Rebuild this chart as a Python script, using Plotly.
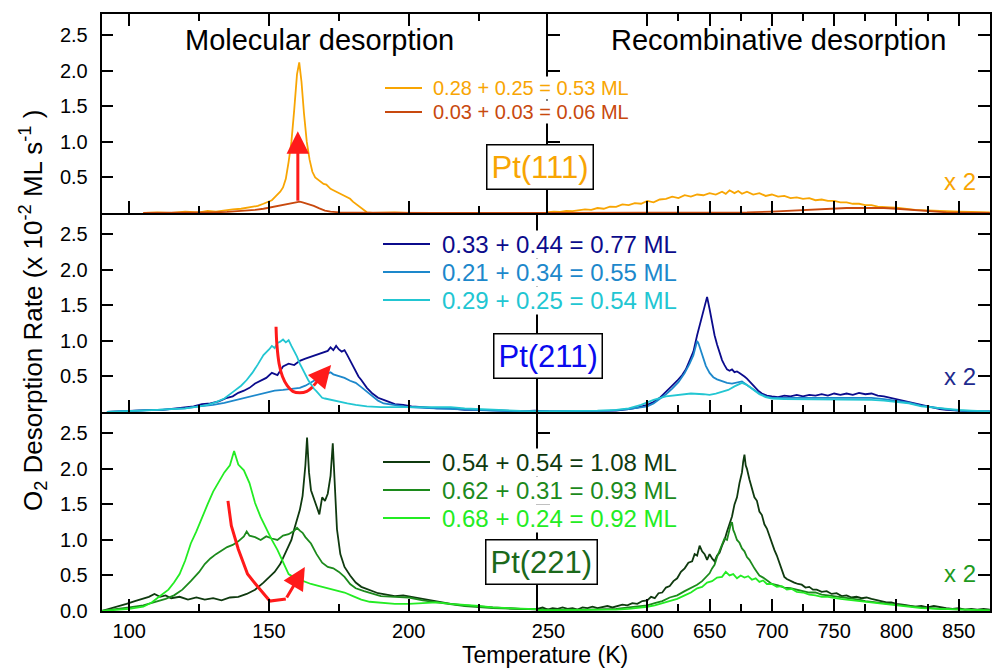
import plotly.graph_objects as go

FONT = "Liberation Sans, Arial, Helvetica, sans-serif"

# ---------------- data ----------------
# temperature in K, rate in 1e-2 ML/s ; "mol" = molecular (90-250 K), "rec" = recombinative (512-875 K, shown x2)

headers = ["Molecular desorption", "Recombinative desorption"]
surfaces = ["Pt(111)", "Pt(211)", "Pt(221)"]

labels_111 = ["0.28 + 0.25 = 0.53 ML", "0.03 + 0.03 = 0.06 ML"]
labels_211 = ["0.33 + 0.44 = 0.77 ML", "0.21 + 0.34 = 0.55 ML", "0.29 + 0.25 = 0.54 ML"]
labels_221 = ["0.54 + 0.54 = 1.08 ML", "0.62 + 0.31 = 0.93 ML", "0.68 + 0.24 = 0.92 ML"]

left_ticks = [100, 150, 200, 250]
left_minor = [125, 175, 225]
right_ticks = [600, 650, 700, 750, 800, 850]
right_minor = [625, 675, 725, 775, 825, 875]
y_ticks_top = [0.5, 1.0, 1.5, 2.0, 2.5]
y_ticks_bottom = [0.0, 0.5, 1.0, 1.5, 2.0, 2.5]

# Pt(111)
pt111_053_mol = [(105,0.0),(110,0.01),(115,0.0),(120,0.02),(125,0.01),(128,0.03),(131,0.02),(134,0.04),(137,0.05),
    (140,0.06),(142,0.07),(144,0.09),(146,0.1),(148,0.13),(150,0.16),(151,0.18),(152,0.22),(153,0.26),(154,0.3),
    (155,0.36),(156,0.48),(157,0.72),(158,1.0),(159,1.45),(160,1.95),(160.8,2.12),(161.6,1.85),(162.5,1.4),(163.5,1.0),
    (164.5,0.75),(165.5,0.58),(166.5,0.5),(167.5,0.47),(168.5,0.45),(169.5,0.41),(170.5,0.4),(172,0.34),(173,0.32),
    (174,0.3),(175,0.29),(176,0.26),(177,0.25),(178,0.22),(179,0.2),(180,0.16),(181,0.13),(182,0.1),(183,0.06),
    (184,0.03),(185,0.01),(187,0.0),(195,0.01),(200,0.0),(210,0.0),(220,0.005),(230,0.0),(240,0.0),(250,0.0)]
pt111_006_mol = [(105,0.0),(110,0.0),(120,0.0),(130,0.01),(135,0.015),(140,0.025),(145,0.045),(148,0.06),(150,0.075),
    (152,0.09),(154,0.11),(156,0.13),(158,0.145),(160,0.155),(161,0.16),(162,0.15),(164,0.13),(166,0.1),(168,0.065),
    (170,0.035),(172,0.02),(175,0.01),(180,0.005),(190,0.0),(200,0.0),(210,0.0),(220,0.0),(230,0.0),(240,0.0),(250,0.0)]
pt111_053_rec = [(520,0.01),(525,0.02),(530,0.015),(535,0.03),(540,0.025),(545,0.04),(550,0.05),(555,0.045),
    (560,0.07),(565,0.06),(570,0.09),(575,0.085),(580,0.12),(585,0.11),(590,0.14),(595,0.13),(600,0.17),(605,0.15),
    (610,0.19),(615,0.2),(620,0.23),(625,0.21),(630,0.25),(635,0.23),(640,0.26),(645,0.25),(650,0.28),(655,0.26),
    (660,0.3),(663,0.27),(666,0.32),(670,0.28),(673,0.31),(676,0.27),(680,0.3),(685,0.26),(690,0.28),(695,0.24),
    (700,0.26),(705,0.23),(710,0.24),(715,0.21),(720,0.22),(725,0.2),(730,0.21),(735,0.18),(740,0.19),(745,0.17),
    (750,0.17),(755,0.15),(760,0.15),(765,0.13),(770,0.13),(775,0.11),(780,0.11),(785,0.09),(790,0.09),(795,0.08),
    (800,0.075),(805,0.06),(810,0.055),(815,0.045),(820,0.04),(825,0.035),(830,0.03),(840,0.025),(850,0.02),
    (860,0.015),(875,0.01)]
pt111_006_rec = [(520,0.0),(600,0.0),(650,0.005),(680,0.01),(700,0.02),(710,0.03),(720,0.04),(730,0.05),(740,0.06),
    (750,0.065),(760,0.07),(770,0.07),(780,0.075),(790,0.07),(800,0.06),(810,0.045),(820,0.03),(830,0.02),(840,0.01),
    (850,0.005),(875,0.0)]

# Pt(211)
pt211_077_mol = [(92,0.0),(96,0.01),(100,0.01),(104,0.02),(108,0.03),(112,0.03),(116,0.05),(120,0.07),(123,0.08),
    (126,0.11),(129,0.12),(132,0.15),(135,0.2),(137,0.22),(139,0.27),(141,0.3),(143,0.34),(145,0.4),(147,0.44),
    (149,0.48),(151,0.55),(153,0.52),(155,0.64),(157,0.68),(159,0.66),(161,0.72),(163,0.75),(165,0.78),(167,0.8),
    (169,0.84),(171,0.86),(172,0.91),(173,0.87),(174,0.93),(175,0.88),(176,0.85),(177,0.87),(178,0.8),(179,0.72),
    (180,0.64),(181,0.58),(182,0.5),(183,0.45),(184,0.39),(185,0.34),(187,0.26),(189,0.2),(191,0.17),(193,0.14),
    (195,0.11),(198,0.1),(201,0.08),(205,0.07),(210,0.05),(215,0.05),(220,0.03),(225,0.03),(230,0.02),(235,0.02),
    (240,0.01),(245,0.02),(250,0.01)]
pt211_055_mol = [(92,0.0),(100,0.01),(105,0.02),(110,0.03),(115,0.04),(120,0.05),(125,0.08),(130,0.1),(134,0.13),
    (137,0.16),(140,0.18),(143,0.21),(146,0.25),(149,0.28),(152,0.3),(155,0.31),(158,0.33),(161,0.34),(163,0.37),
    (165,0.42),(167,0.46),(169,0.5),(171,0.54),(172,0.56),(173,0.53),(175,0.51),(177,0.48),(179,0.44),(181,0.41),
    (183,0.35),(185,0.29),(187,0.22),(189,0.16),(191,0.12),(194,0.1),(197,0.08),(200,0.07),(205,0.06),(210,0.05),
    (215,0.04),(220,0.03),(230,0.02),(240,0.01),(250,0.01)]
pt211_054_mol = [(92,0.0),(100,0.01),(105,0.02),(110,0.03),(115,0.04),(120,0.05),(125,0.08),(128,0.1),(131,0.14),
    (134,0.19),(137,0.28),(140,0.37),(142,0.45),(144,0.55),(146,0.67),(148,0.8),(150,0.88),(151,0.93),(152,0.9),
    (153,0.97),(154,0.99),(155,1.02),(156,0.98),(157,1.01),(158,0.93),(159,0.86),(160,0.78),(161,0.68),(162,0.6),
    (163,0.52),(164,0.45),(165,0.39),(166,0.33),(167,0.29),(168,0.25),(169,0.2),(170,0.19),(172,0.17),(175,0.15),
    (178,0.12),(181,0.1),(185,0.08),(190,0.07),(195,0.07),(200,0.08),(205,0.07),(210,0.08),(215,0.07),(220,0.05),
    (225,0.04),(230,0.03),(240,0.015),(250,0.01)]
pt211_077_rec = [(512,0.01),(530,0.01),(550,0.01),(565,0.02),(575,0.02),(585,0.04),(592,0.06),(600,0.1),(605,0.14),
    (610,0.2),(615,0.28),(620,0.37),(624,0.44),(628,0.52),(631,0.6),(634,0.72),(637,0.85),(640,1.08),(642,1.22),
    (644,1.38),(646,1.5),(648,1.62),(650,1.45),(652,1.25),(654,1.08),(656,0.95),(658,0.82),(660,0.73),(662,0.66),
    (664,0.6),(666,0.58),(668,0.6),(670,0.56),(672,0.57),(674,0.55),(676,0.53),(678,0.5),(680,0.47),(683,0.41),
    (686,0.36),(689,0.3),(692,0.26),(696,0.23),(700,0.22),(705,0.21),(710,0.23),(715,0.22),(720,0.24),(725,0.22),
    (730,0.24),(735,0.23),(740,0.25),(745,0.23),(750,0.26),(755,0.24),(760,0.26),(765,0.24),(770,0.27),(775,0.25),
    (780,0.26),(785,0.23),(790,0.22),(795,0.2),(800,0.19),(805,0.17),(810,0.15),(815,0.12),(820,0.1),(825,0.08),
    (830,0.06),(835,0.04),(840,0.03),(850,0.02),(860,0.01),(875,0.01)]
pt211_055_rec = [(512,0.01),(550,0.01),(570,0.02),(585,0.04),(595,0.06),(600,0.08),(605,0.12),(610,0.18),(615,0.25),
    (620,0.33),(625,0.42),(630,0.55),(634,0.68),(637,0.8),(639,0.92),(640,1.0),(641,0.97),(643,0.87),(645,0.76),
    (647,0.65),(650,0.55),(653,0.49),(656,0.46),(660,0.43),(664,0.41),(668,0.4),(672,0.42),(676,0.43),(680,0.38),
    (685,0.32),(690,0.26),(695,0.22),(700,0.2),(710,0.2),(720,0.2),(735,0.2),(750,0.21),(765,0.21),(780,0.2),
    (790,0.18),(800,0.16),(810,0.13),(820,0.09),(830,0.06),(840,0.04),(850,0.02),(860,0.01),(875,0.01)]
pt211_054_rec = [(512,0.01),(540,0.01),(560,0.02),(575,0.03),(585,0.05),(595,0.1),(605,0.17),(615,0.22),(625,0.24),
    (635,0.26),(645,0.25),(650,0.24),(655,0.26),(660,0.28),(665,0.31),(670,0.36),(673,0.39),(676,0.41),(680,0.38),
    (685,0.31),(690,0.25),(695,0.21),(700,0.19),(710,0.18),(720,0.18),(735,0.18),(750,0.18),(765,0.18),(780,0.17),
    (790,0.16),(800,0.14),(810,0.12),(820,0.08),(830,0.06),(840,0.04),(850,0.03),(860,0.02),(875,0.01)]

# Pt(221)
pt221_108_mol = [(90,0.0),(93,0.03),(96,0.07),(99,0.1),(102,0.14),(105,0.17),(107,0.2),(109,0.24),(111,0.2),
    (113,0.22),(115,0.18),(118,0.2),(121,0.16),(124,0.19),(127,0.16),(130,0.18),(133,0.15),(136,0.19),(139,0.2),
    (142,0.24),(145,0.3),(148,0.4),(150,0.47),(152,0.55),(154,0.66),(156,0.82),(158,1.0),(159,1.15),(160,1.28),
    (161,1.42),(162,1.62),(163,2.05),(163.6,2.44),(164.3,1.95),(165,1.7),(166,1.58),(167,1.47),(168,1.36),(169,1.6),
    (170,1.55),(171,1.65),(172,1.9),(172.8,2.36),(173.5,1.8),(174.3,1.15),(175.5,0.8),(177,0.62),(179,0.5),
    (181,0.4),(183,0.34),(186,0.29),(189,0.25),(192,0.23),(195,0.21),(198,0.22),(201,0.2),(204,0.18),(207,0.16),
    (210,0.14),(215,0.1),(220,0.08),(225,0.06),(230,0.05),(240,0.03),(250,0.02)]
pt221_093_mol = [(90,0.0),(95,0.02),(100,0.05),(105,0.08),(110,0.14),(113,0.17),(116,0.22),(119,0.3),(122,0.42),
    (125,0.55),(127,0.66),(129,0.74),(131,0.8),(133,0.85),(135,0.9),(137,0.93),(139,0.98),(141,1.05),(142,1.12),
    (143,1.06),(145,1.04),(147,1.0),(149,1.05),(151,1.02),(153,1.0),(155,1.06),(157,1.08),(159,1.13),(160,1.17),
    (161,1.13),(162,1.1),(163,1.04),(165,0.95),(167,0.8),(169,0.68),(171,0.62),(173,0.6),(175,0.55),(177,0.48),
    (179,0.38),(181,0.32),(184,0.28),(187,0.24),(190,0.21),(195,0.2),(200,0.19),(205,0.15),(210,0.12),(215,0.1),
    (220,0.07),(230,0.04),(240,0.03),(250,0.02)]
pt221_092_mol = [(90,0.0),(95,0.01),(100,0.03),(105,0.06),(108,0.12),(111,0.21),(114,0.3),(116,0.4),(118,0.52),
    (120,0.71),(122,0.95),(124,1.12),(126,1.32),(128,1.5),(130,1.68),(132,1.82),(134,1.95),(136,2.05),(137.5,2.25),
    (139,2.06),(141,1.98),(143,1.8),(145,1.52),(147,1.32),(149,1.15),(151,1.0),(153,0.86),(155,0.68),(157,0.52),
    (159,0.47),(161,0.44),(163,0.4),(165,0.38),(168,0.35),(171,0.32),(174,0.3),(177,0.26),(180,0.21),(183,0.16),
    (186,0.13),(190,0.12),(195,0.1),(200,0.1),(205,0.11),(210,0.12),(215,0.1),(220,0.09),(225,0.07),(230,0.05),
    (240,0.03),(250,0.02)]
pt221_108_rec = [(512,0.03),(516,0.05),(520,0.02),(524,0.04),(528,0.03),(532,0.05),(536,0.03),(540,0.04),(544,0.02),
    (548,0.05),(552,0.04),(556,0.06),(560,0.04),(564,0.05),(568,0.07),(572,0.05),(576,0.07),(580,0.09),(584,0.08),
    (588,0.11),(592,0.1),(596,0.14),(600,0.15),(603,0.2),(606,0.18),(609,0.25),(612,0.26),(615,0.33),(618,0.35),
    (621,0.42),(624,0.46),(627,0.55),(630,0.6),(633,0.68),(636,0.7),(638,0.8),(640,0.78),(642,0.92),(644,0.84),
    (646,0.8),(648,0.72),(650,0.8),(652,0.74),(654,0.7),(656,0.78),(658,0.82),(660,0.92),(662,1.0),(664,1.12),
    (666,1.22),(668,1.33),(670,1.5),(672,1.6),(674,1.8),(676,1.95),(677,2.1),(678,2.2),(679,2.05),(680,2.0),
    (682,1.85),(684,1.72),(686,1.6),(688,1.55),(690,1.4),(692,1.35),(694,1.22),(696,1.16),(698,1.05),(700,0.95),
    (702,0.86),(704,0.78),(706,0.68),(708,0.6),(710,0.48),(712,0.45),(715,0.42),(718,0.4),(721,0.38),(724,0.37),
    (727,0.33),(730,0.34),(733,0.3),(736,0.3),(740,0.27),(744,0.28),(748,0.24),(752,0.25),(756,0.21),(760,0.22),
    (764,0.19),(768,0.2),(772,0.18),(776,0.19),(780,0.17),(784,0.15),(788,0.14),(792,0.12),(796,0.12),(800,0.1),
    (805,0.09),(810,0.08),(815,0.06),(820,0.07),(825,0.05),(830,0.07),(835,0.05),(840,0.04),(845,0.03),(850,0.04),
    (855,0.02),(860,0.03),(865,0.02),(870,0.03),(875,0.02)]
pt221_093_rec = [(512,0.01),(530,0.02),(550,0.02),(565,0.03),(575,0.03),(585,0.05),(592,0.06),(600,0.08),(606,0.11),
    (612,0.14),(618,0.19),(624,0.22),(630,0.28),(635,0.32),(640,0.37),(644,0.42),(647,0.48),(650,0.53),(652,0.6),
    (654,0.65),(656,0.76),(658,0.85),(660,0.92),(662,1.02),(664,1.0),(666,1.15),(667,1.22),(668,1.25),(669,1.14),
    (670,1.1),(672,1.0),(674,0.96),(676,0.88),(678,0.84),(680,0.76),(682,0.72),(684,0.65),(686,0.6),(688,0.55),
    (690,0.5),(693,0.47),(696,0.43),(700,0.38),(705,0.36),(710,0.33),(715,0.32),(720,0.3),(725,0.29),(730,0.26),
    (735,0.26),(740,0.23),(745,0.22),(750,0.21),(755,0.19),(760,0.18),(765,0.17),(770,0.16),(775,0.14),(780,0.13),
    (785,0.11),(790,0.1),(795,0.09),(800,0.08),(810,0.06),(820,0.05),(835,0.03),(850,0.02),(875,0.01)]
pt221_092_rec = [(512,0.01),(540,0.01),(560,0.01),(575,0.02),(585,0.03),(592,0.04),(600,0.06),(606,0.08),(612,0.11),
    (618,0.14),(624,0.17),(630,0.22),(635,0.26),(640,0.32),(644,0.34),(648,0.4),(652,0.42),(656,0.47),(660,0.48),
    (663,0.55),(666,0.5),(669,0.52),(672,0.46),(675,0.5),(678,0.47),(681,0.49),(684,0.44),(687,0.46),(690,0.41),
    (693,0.43),(696,0.38),(700,0.38),(704,0.34),(708,0.35),(712,0.3),(716,0.31),(720,0.27),(725,0.26),(730,0.23),
    (735,0.22),(740,0.2),(745,0.2),(750,0.18),(755,0.17),(760,0.16),(765,0.15),(770,0.14),(775,0.13),(780,0.12),
    (785,0.1),(790,0.09),(795,0.08),(800,0.07),(810,0.05),(820,0.04),(835,0.03),(850,0.02),(875,0.01)]

# red guide arrows (T, rate): path points, last segment carries the head
arrow_111 = [(160.3, 0.15), (160.3, 1.15)]
arrow_211 = [(152.5, 1.2), (152.8, 0.95), (153.6, 0.68), (154.8, 0.5), (156.5, 0.37), (158.5, 0.29), (161, 0.27),
             (163.5, 0.29), (165.5, 0.35), (172.2, 0.66)]
arrow_221 = [(135.3, 1.55), (136.5, 1.2), (139, 0.87), (142.3, 0.52), (146.2, 0.33), (150.3, 0.14), (156, 0.17),
             (162.8, 0.62)]

# ---------------- styling ----------------
colors_111 = ["#F8A503", "#C8490E"]
colors_211 = ["#0B0B8C", "#1D88CB", "#22C6D2"]
colors_221 = ["#0F3A0F", "#1C8A1C", "#23EC23"]
box_colors = ["#F8A503", "#0A0AEE", "#1B691B"]
x2_colors = ["#F8A503", "#1E2A8E", "#1E9A1E"]
ARROW = "#FF1A1A"

panels = [
    dict(series=[(pt111_053_mol, pt111_053_rec), (pt111_006_mol, pt111_006_rec)], labels=labels_111,
         colors=colors_111, arrow=arrow_111, spline=False),
    dict(series=[(pt211_077_mol, pt211_077_rec), (pt211_055_mol, pt211_055_rec), (pt211_054_mol, pt211_054_rec)],
         labels=labels_211, colors=colors_211, arrow=arrow_211, spline=True),
    dict(series=[(pt221_108_mol, pt221_108_rec), (pt221_093_mol, pt221_093_rec), (pt221_092_mol, pt221_092_rec)],
         labels=labels_221, colors=colors_221, arrow=arrow_221, spline=False),
]

W, H = 992, 672
def px(x): return x / W
def py(y): return 1 - y / H

panel_top = [14, 213, 412]
panel_h = 199
x_left0, x_split, x_right1 = 101.5, 549.0, 990.0
right_start = [548.0, 538.0, 538.0]
# scales (px per K)
kL = 2.795; T100_px = 129.3
kR = 1.2456; T600_px = 647.3
left_range = [100 + (x_left0 - T100_px) / kL, 100 + (x_split - T100_px) / kL]

legend_font = [20, 24, 24]
legend_y = [[88, 112], [244, 272, 300], [462, 490, 518]]
legend_line = [(385, 422), (383, 430), (383, 430)]
legend_text_x = [432, 441, 441]
box_center = [(540, 167), (548, 356), (541, 562)]
x2_y = [182, 376, 573]

fig = go.Figure()
layout = dict(template="none", width=W, height=H, margin=dict(l=0, r=0, t=0, b=0, autoexpand=False),
              paper_bgcolor="white", plot_bgcolor="rgba(0,0,0,0)", showlegend=False,
              font=dict(family=FONT, color="black", size=20))
annotations, shapes = [], []

axis_common = dict(showline=True, linecolor="black", linewidth=1.5, ticks="inside", tickcolor="black",
                   tickwidth=1.5, showgrid=False, zeroline=False, automargin=False,
                   tickfont=dict(family=FONT, size=20, color="black"))

for r, p in enumerate(panels):
    y0, y1 = panel_top[r], panel_top[r] + panel_h
    ydom = [py(y1), py(y0)]
    iL, iR = 2 * r + 1, 2 * r + 2
    sL = "" if iL == 1 else str(iL)
    sR = str(iR)
    bottom = (r == 2)
    rs = right_start[r]
    right_range = [600 - (T600_px - rs) / kR, 600 + (x_right1 - T600_px) / kR]

    layout["xaxis" + sL] = dict(axis_common, domain=[px(x_left0), px(x_split)], range=left_range, anchor="y" + sL,
                                tickvals=left_ticks, ticklen=12, showticklabels=bottom, ticklabelstandoff=1,
                                minor=dict(tickvals=left_minor, ticklen=7, ticks="inside", tickcolor="black", tickwidth=1.5),
                                mirror="ticks" if r == 0 else False)
    layout["xaxis" + sR] = dict(axis_common, domain=[px(rs), px(x_right1)], range=right_range, anchor="y" + sR,
                                tickvals=right_ticks, ticklen=12, showticklabels=bottom, ticklabelstandoff=1,
                                minor=dict(tickvals=right_minor, ticklen=7, ticks="inside", tickcolor="black", tickwidth=1.5),
                                mirror="ticks" if r == 0 else False)
    yt = y_ticks_bottom if bottom else y_ticks_top
    layout["yaxis" + sL] = dict(axis_common, domain=ydom, range=[0, 2.8], anchor="x" + sL, tickvals=yt,
                                ticktext=["%.1f" % v for v in yt], ticklen=12, ticklabelstandoff=8)
    layout["yaxis" + sR] = dict(axis_common, domain=ydom, range=[0, 2.8], anchor="x" + sR, tickvals=y_ticks_top,
                                ticklen=12, showticklabels=False, mirror="ticks")

    for (mol, rec), c in zip(p["series"], p["colors"]):
        fig.add_trace(go.Scatter(x=[a for a, b in mol], y=[b for a, b in mol], mode="lines",
                                 line=dict(color=c, width=1.8), xaxis="x" + sL, yaxis="y" + sL))
        fig.add_trace(go.Scatter(x=[a for a, b in rec], y=[b for a, b in rec], mode="lines",
                                 line=dict(color=c, width=1.8), xaxis="x" + sR, yaxis="y" + sR))

    # red arrow: shaft as line, head as annotation on last segment
    ap = p["arrow"]
    fig.add_trace(go.Scatter(x=[a for a, b in ap[:-1]], y=[b for a, b in ap[:-1]], mode="lines",
                             line=dict(color=ARROW, width=3, shape="spline" if p["spline"] else "linear"),
                             xaxis="x" + sL, yaxis="y" + sL))
    annotations.append(dict(x=ap[-1][0], y=ap[-1][1], ax=ap[-2][0], ay=ap[-2][1], xref="x" + sL, yref="y" + sL,
                            axref="x" + sL, ayref="y" + sL, showarrow=True, arrowhead=2, arrowsize=1.5,
                            arrowwidth=3, arrowcolor=ARROW, text=""))

    # legend-like labels
    for k, (lab, c) in enumerate(zip(p["labels"], p["colors"])):
        yy = legend_y[r][k]
        annotations.append(dict(x=px(legend_text_x[r]), y=py(yy), xref="paper", yref="paper", xanchor="left",
                                yanchor="middle", text=lab, showarrow=False, bgcolor="white", borderpad=0,
                                font=dict(family=FONT, size=legend_font[r], color=c)))
        shapes.append(dict(type="line", xref="paper", yref="paper", x0=px(legend_line[r][0]), x1=px(legend_line[r][1]),
                           y0=py(yy), y1=py(yy), line=dict(color=c, width=2)))

    bx, by = box_center[r]
    annotations.append(dict(x=px(bx), y=py(by), xref="paper", yref="paper", xanchor="center", yanchor="middle",
                            text=surfaces[r], showarrow=False,
                            bgcolor="white", bordercolor="black", borderwidth=1.5, borderpad=4,
                            font=dict(family=FONT, size=31, color=box_colors[r])))
    annotations.append(dict(x=px(978), y=py(x2_y[r]), xref="paper", yref="paper", xanchor="right", yanchor="middle",
                            text="x 2", showarrow=False, font=dict(family=FONT, size=24, color=x2_colors[r])))

for txt, cx in zip(headers, [319, 778]):
    annotations.append(dict(x=px(cx), y=py(40), xref="paper", yref="paper", xanchor="center", yanchor="middle",
                            text=txt, showarrow=False, font=dict(family=FONT, size=29, color="black")))
annotations.append(dict(x=px(545), y=py(655), xref="paper", yref="paper", xanchor="center", yanchor="middle",
                        text="Temperature (K)", showarrow=False, font=dict(family=FONT, size=23, color="black")))
annotations.append(dict(x=px(33), y=py(311), xref="paper", yref="paper", xanchor="center", yanchor="middle",
                        textangle=-90,
                        text="O<sub>2</sub> Desorption Rate (x 10<sup>-2</sup> ML s<sup>-1</sup> )", showarrow=False,
                        font=dict(family=FONT, size=26, color="black")))

layout["annotations"] = annotations
layout["shapes"] = shapes
fig.update_layout(**layout)
fig.write_html("out.html")
